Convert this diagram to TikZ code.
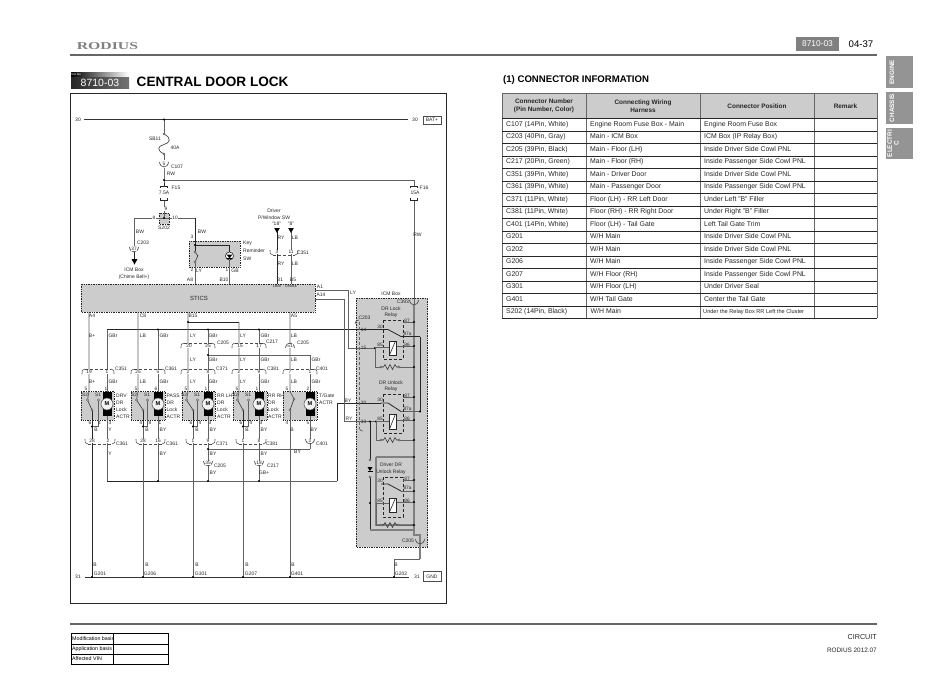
\documentclass[tikz,border=0pt]{standalone}
\usepackage{fontspec}
\setmainfont{Liberation Sans}
\newfontfamily\brandfont{Liberation Serif}
\usetikzlibrary{positioning}

\begin{document}
\begin{tikzpicture}[x=1pt,y=-1pt,
    wire/.style={color=black!62,line width=0.75pt},
    wiredk/.style={color=black!85,line width=0.8pt},
    wirefat/.style={color=black!50,line width=1.2pt},
    lbl/.style={inner sep=0pt,font=\fontsize{5}{5.5}\selectfont,color=black!85},
    pinlbl/.style={lbl,fill=white,inner sep=0.4pt,font=\fontsize{4.8}{5}\selectfont},
    pingray/.style={lbl,font=\fontsize{4.8}{5}\selectfont},
    cell/.style={inner sep=0pt,anchor=west,text height=5pt,text depth=1.5pt,font=\fontsize{6.9}{7}\selectfont,color=black!85},
    head/.style={inner sep=0pt,align=center,font=\bfseries\fontsize{6.4}{8}\selectfont,color=black!85},
    conn/.style={color=black!70,line width=0.55pt},
    connline/.style={conn,densely dashed},
    dashbox/.style={fill=black!20,draw=black!85,line width=0.7pt,densely dotted},
    relaybox/.style={draw=black!85,line width=0.6pt,densely dashed},
    junc/.style={circle,fill=black,inner sep=0pt,minimum size=2.4pt},
    hollow/.style={circle,draw=black!75,fill=black!5,line width=0.4pt,inner sep=0pt,minimum size=2.2pt},
    tabbox/.style={fill=black!42,draw=none},
    tabtext/.style={inner sep=0pt,rotate=90,align=center,color=white,font=\bfseries\fontsize{6.4}{6.6}\selectfont}]
    \useasboundingbox (0,0) rectangle (950,672);

    % page head
    \node[inner sep=0pt,xscale=1.5,color=black!50,font=\brandfont\bfseries\fontsize{10.5}{11}\selectfont] (brand) at (107.5,46.5) {RODIUS};
    \draw[color=black!60,line width=2.4pt] (70,55) -- (877,55);
    \draw[color=black!60,line width=2.4pt] (70,624) -- (877,624);
    \fill[black!50] (796,37) rectangle (839,51);
    \node[inner sep=0pt,color=white,font=\fontsize{8.4}{9}\selectfont] (code) at (817.5,44) {8710-03};
    \node[inner sep=0pt,color=black,font=\fontsize{9.6}{10}\selectfont] (page) at (861,44) {04-37};

    % side tabs
    \fill[tabbox] (886,56) rectangle (913,88);
    \fill[tabbox] (886,92) rectangle (913,124);
    \fill[tabbox] (886,128) rectangle (913,159);
    \node[tabtext] (tabeng) at (892,72) {ENGINE};
    \node[tabtext] (tabcha) at (892,108) {CHASSIS};
    \node[tabtext] (tabele) at (893,143.5) {ELECTRI\\C};

    % section title
    \shade[left color=black,right color=white] (71,72) rectangle (129,77);
    \shade[left color=black!85,right color=black!55] (71,77) rectangle (129,88);
    \node[inner sep=0pt,color=white,font=\fontsize{3}{3}\selectfont] (sano) at (76,74.5) {S/A No};
    \node[inner sep=0pt,color=white,font=\fontsize{10.5}{11}\selectfont] (secno) at (100,82.5) {8710-03};
    \node[inner sep=0pt,anchor=west,color=black,font=\bfseries\fontsize{13.6}{14}\selectfont] (title) at (136.5,81.5) {CENTRAL DOOR LOCK};
    \draw[color=black!85,line width=0.9pt] (70.5,93) rectangle (446,603.5);

    % gray boxes
    \path[dashbox] (81,284) rectangle (315,312);
    \path[dashbox] (356,298) rectangle (427.5,547);
    \path[dashbox] (189,241) rectangle (240,267);
    \path[dashbox] (159,213) rectangle (169,224);
    \node[inner sep=0pt,font=\fontsize{6}{6}\selectfont,color=black!85] (stics) at (199,298) {STICS};

    % wire points
    \foreach \pname/\x/\y in {bat/84/119.5,batr/408/119.5,jbat/164/119.5,sbt/164/134,sbb/164/154,
        cfuse/164/168,jrw/164/180,ftop/164/186,fbot/164/200,gtop/414/186,gbot/414/200,corner/414/180,
        jsplice/164/218,spl/134/218,spr/195/218,wicm/134/260,jkey/195/245,lampt/229.5/245,
        swa/195/252,swb/195/262,wA/195/284,wB/229.5/284,lamp/229.5/256,
        dra/277/232,drb/291/232,drc/277/284,drd/291/284,
        gl/85/577,gr/409/577,jg/394/577,up/394/559,upr/420/559,
        a1/315/290,a1b/348/290,a14/315/299,a14b/344/299,
        pin15/375/348,pin33/376/421.5,jp33/370/421.5,
        brk/188/322,brkr/239/322,bus/107/329.5,busr/381/329.5,
        b5/208/355,b5r/310/355,
        low/107/481,lowr/337/481,ret/381/403,
        bot5/310/449,jbot/208/449,
        mainT/414/305,mainB/414/535,sideT/420/336.5,sideB/420/411.5,
        cgnd/420/535,diT/370/460,diB/370/477,diE/370/530,diF/414/530,
        boxa/376/457,boxb/414/457,boxc/376/525,boxd/414/525}
        {\coordinate (\pname) at (\x,\y);}

    % supply side
    \draw[color=black!80,line width=1pt] (bat) -- (batr);
    \draw[wire] (jbat) -- (sbt);
    \draw[color=black!80,line width=0.6pt] (sbt) .. controls (172,138) and (170,143) .. (164,144.5) .. controls (158,146) and (156,150) .. (sbb);
    \draw[wire] (sbb) -- (164,160);
    \draw[wiredk] (cfuse) -- (jrw) -- (ftop);
    \draw[wire] (jrw) -- (corner) -- (gtop);
    \draw[wire] (gbot) -- (mainT);
    \draw[wire] (fbot) -- (jsplice);
    \draw[wire] (spl) -- (spr);
    \draw[wire] (spl) -- (134,246);
    \draw[wiredk] (134,252) -- (wicm);
    \draw[wiredk] (spr) -- (swa);
    \draw[wiredk] (jkey) -- (lampt) -- (lamp);
    \draw[wire] (swb) -- (wA);
    \draw[wire] (lamp) -- (wB);
    \draw[color=black!80,line width=0.6pt] (swa) -- (198,256);
    \draw[color=black!80,line width=0.6pt] (swb) -- (198,255.5);
    \foreach \p in {sbt,sbb,swa,swb}
        {\node[hollow] (h\p) at (\p) {};}
    \fill[black] (131.5,259) -- (137.5,259) -- (134.5,264.5) -- cycle;
    \draw[wiredk] (dra) -- (drc);
    \draw[wire] (drb) -- (drd);
    \foreach \x in {277,291}
        \fill[black] (\x-2.8,228) -- (\x+2.8,228) -- (\x,233) -- cycle;

    % fuses and lamp
    \foreach \x in {164,414}
        {\draw[color=black!85,line width=0.6pt] (\x-3.5,188) -- (\x-3.5,186) -- (\x+3.5,186) -- (\x+3.5,188);
         \draw[color=black!85,line width=0.6pt] (\x-3.5,198) -- (\x-3.5,200) -- (\x+3.5,200) -- (\x+3.5,198);}
    \node[circle,fill=white,draw=black,line width=0.5pt,inner sep=0pt,minimum size=8pt] (lampc) at (lamp) {};
    \fill[black] (226.7,254.5) -- (232.3,254.5) -- (229.5,258.5) -- cycle;
    \draw[black,line width=0.6pt] (226.7,258.5) -- (232.3,258.5);

    % door actuators
    \foreach \n/\bl/\br in {1/81/114,2/131/165,3/182/215,4/233/267,5/283/317}
        {\path[dashbox] (\bl,391.5) rectangle (\br,420);}
    \draw[wiredk] (brk) -- (brkr);
    \draw[wiredk] (bus) -- (busr);
    \draw[wire] (b5) -- (b5r);
    \draw[wiredk] (low) -- (158,481);
    \draw[wire] (158,481) -- (lowr);
    \draw[wiredk] (lowr) -- (337,403) -- (ret);
    \draw[wire] (jbot) -- (bot5);
    \foreach \n/\ux/\ut/\mx/\mt/\lx in {1/89/312/107/329.5/92,2/138/312/158/329.5/143,3/188/312/208/329.5/193,4/239/322/259/329.5/243}
        {\coordinate (top\n) at (\ux,\ut);
         \coordinate (ent\n) at (\ux,391.5);
         \coordinate (sig\n) at (\mx,\mt);
         \coordinate (mot\n) at (\mx,404);
         \coordinate (sw\n) at (\ux-1.5,400);
         \coordinate (sy\n) at (\ux+9.5,400);
         \coordinate (lv\n) at (\lx,410);
         \coordinate (gnd\n) at (\lx,577);
         \coordinate (join\n) at (\lx,426.5);
         \coordinate (joir\n) at (\ux+9.5,426.5);
         \draw[wire] (top\n) -- (ent\n) -- (sw\n);
         \draw[wire] (sy\n) -- (joir\n) -- (join\n);
         \draw[wiredk] (lv\n) -- (join\n);
         \draw[wire] (join\n) -- (gnd\n);
         \draw[color=black!80,line width=0.6pt] (sw\n) -- (lv\n);
         \node[hollow] (hs\n) at (sw\n) {};
         \node[hollow] (hy\n) at (sy\n) {};
         \node[hollow] (hl\n) at (lv\n) {};
         \node[junc] (jj\n) at (join\n) {};
         \node[pingray] (s2\n) at (\ux-4,395) {S2};
         \node[pingray] (s1\n) at (\ux+9,395) {S1};
         \draw[wire] (sig\n) -- (\mx,392);
         \draw[wire] (\mx,416) -- (\mx,481);
         \fill[black] (\mx-4.5,392) rectangle (\mx+4.5,416);
         \node[circle,draw=black!70,fill=black!5,line width=0.5pt,inner sep=0pt,minimum size=12pt,font=\bfseries\fontsize{5.6}{6}\selectfont] (m\n) at (mot\n) {M};}
    \coordinate (top5) at (290,312);
    \coordinate (gnd5) at (290,577);
    \draw[wire] (top5) -- (290,391.5) -- (294,399);
    \draw[wire] (290,410) -- (gnd5);
    \draw[color=black!80,line width=0.6pt] (294,399) -- (290,410);
    \node[hollow] (hs5) at (294,399) {};
    \node[hollow] (hl5) at (290,410) {};
    \draw[wire] (b5r) -- (310,392);
    \draw[wire] (310,416) -- (bot5);
    \fill[black] (305.5,392) rectangle (314.5,416);
    \node[circle,draw=black!70,fill=black!5,line width=0.5pt,inner sep=0pt,minimum size=12pt,font=\bfseries\fontsize{5.6}{6}\selectfont] (m5) at (310,404) {M};

    % ground bus
    \draw[color=black!80,line width=0.9pt] (gl) -- (gr);
    \draw[wiredk] (gnd1) -- (join1);
    \draw[wire] (upr) -- (up) -- (jg);
    \foreach \j in {gnd1,gnd2,gnd3,gnd4,gnd5,jg,jbot,b5,brk,jrw,jbat,jsplice,jkey}
        {\node[junc] (d\j) at (\j) {};}
    \foreach \p/\q [count=\n] in {158/329.5,208/329.5,259/329.5,158/481,208/481,259/481}
        {\node[junc] (jb\n) at (\p,\q) {};}

    % ICM box wiring
    \draw[wire] (a1) -- (a1b) -- (348,348) -- (pin15);
    \draw[wire] (a14) -- (a14b) -- (344,421.5) -- (jp33) -- (pin33);
    \draw[wirefat] (mainT) -- (mainB) -- (cgnd) -- (upr);
    \draw[wiredk] (sideT) -- (sideB);
    \draw[wiredk] (401,336.5) -- (sideT);
    \draw[wire] (401,411.5) -- (sideB);
    \draw[wiredk] (jp33) -- (diT);
    \draw[wiredk] (diB) -- (diE);
    \draw[wirefat] (diE) -- (diF);
    \draw[wirefat] (boxa) -- (boxb);
    \draw[wirefat] (boxa) -- (boxc) -- (boxd);
    \node[hollow] (hdt) at (diT) {};
    \node[hollow] (hdb) at (diB) {};
    \fill[black] (367.5,467) -- (372.5,467) -- (370,471) -- cycle;
    \draw[black,line width=0.6pt] (367.5,471) -- (372.5,471);
    \node[junc] (djd) at (370,503) {};
    \foreach \j in {jp33,pin33,pin15}
        {\node[junc] (d\j) at (\j) {};}
    \draw[color=black!60,line width=0.5pt,densely dashed] (359,322) -- (359,428);
    \draw[conn] (355,324) .. controls (355.5,321) .. (359,320);
    \draw[conn] (359,428) .. controls (361,431) .. (363,431);

    % relays
    \foreach \n/\bt/\bb/\pa/\pb/\pc/\pd/\pe/\ct/\cb/\rr/\ll in {1/320/359/322/336.5/346/329.5/347/341/355/367/375,2/394/433/397/411.5/420/403/421.5/414/429/440/376,3/477/517/480/491/502/484/503/498/512/525/376}
        {\path[relaybox] (383,\bt) rectangle (403,\bb);
         \draw[wire] (403,\pa) -- (414,\pa);
         \draw[wire] (396,\pc) -- (414,\pc);
         \draw[wiredk] (381,\pd) -- (388,\pd) -- (401,\pb);
         \draw[wire] (\ll,\pe) -- (389,\pe);
         \draw[wire] (\ll,\pe) -- (\ll,\rr) -- (381,\rr);
         \draw[wire] (399,\rr) -- (414,\rr);
         \draw[color=black!80,line width=0.55pt] (381,\rr) -- (383.5,\rr) -- (385,\rr-2.5) -- (387.5,\rr+2.5) -- (390,\rr-2.5) -- (392.5,\rr+2.5) -- (395,\rr-2.5) -- (396.5,\rr) -- (399,\rr);
         \node[hollow] (rh\n) at (381,\rr) {};
         \node[hollow] (ri\n) at (399,\rr) {};
         \node[junc] (jra\n) at (414,\pa) {};
         \node[junc] (jrc\n) at (414,\pc) {};
         \node[junc] (jrr\n) at (414,\rr) {};
         \draw[fill=white,draw=black!85,line width=0.6pt] (389,\ct) rectangle (396,\cb);
         \draw[black!85,line width=0.6pt] (389.5,\cb) -- (395.5,\ct);
         \node[pingray] (pa\n) at (407,\pa-1) {87};
         \node[pingray] (pb\n) at (407.5,\pb-3) {87a};
         \node[pingray] (pc\n) at (407,\pc-1) {86};
         \node[pingray] (pd\n) at (380,\pd-3) {30};
         \node[pingray] (pe\n) at (380,\pe-2.5) {85};}
    \draw[wire] (401,491) -- (414,491);
    \node[junc] (jmk) at (414,491) {};
    \node[junc] (jmt) at (414,457) {};
    \node[junc] (jmj) at (420,411.5) {};

    % connector marks, pair lines
    \foreach \a/\b/\y in {188/208/346,239/259/346,89/107/372,138/158/372,188/208/372,239/259/372,290/310/372}
        {\draw[conn] (\a-7,\y+2) .. controls (\a-7,\y-2) .. (\a-4,\y-3);
         \draw[connline] (\a-4,\y-3) -- (\b+4,\y-3);
         \draw[conn] (\b+4,\y-3) .. controls (\b+7,\y-2) .. (\b+7,\y+2);}
    \foreach \a/\b/\y in {277/291/252,92/108/441,143/158/441,193/208/441,243/259/441}
        {\draw[conn] (\a-7,\y-2) .. controls (\a-7,\y+2) .. (\a-4,\y+3);
         \draw[connline] (\a-4,\y+3) -- (\b+4,\y+3);
         \draw[conn] (\b+4,\y+3) .. controls (\b+7,\y+2) .. (\b+7,\y-2);}
    % single pin marks
    \foreach \x/\y in {164/164,134/249,310/441,208/463,259/463,420/541,414/302}
        {\draw[conn,line width=0.7pt] (\x-4.5,\y-2) .. controls (\x-4,\y+4.5) and (\x+4,\y+4.5) .. (\x+4.5,\y-2);}
    \draw[conn,line width=0.7pt] (285.5,348) .. controls (286,341.5) and (294,341.5) .. (294.5,348);

    % pin numbers
    \foreach \x/\y/\t [count=\n] in {166/209/9,154/217.5/8,175/217.5/10,164/164/5,134/249/37,
        192/237/3,192/270/2,227/270/1,277/252/3,291/252/11,
        189/346/20,208/346/25,240/346/15,259/346/17,290/346/51,
        89/372/19,107/372/1,138/372/25,158/372/5,188/372/2,208/372/8,239/372/2,259/372/9,290/372/7,310/372/1,
        92/441/28,108/441/2,143/441/28,158/441/16,193/441/1,208/441/9,243/441/1,259/441/8,310/441/2,
        208/463/35,259/463/18}
        {\node[pinlbl] (pn\n) at (\x,\y) {\t};}
    \foreach \x/\y/\t [count=\n] in {86/388.5/5,106/388.5/1,136/388.5/5,156/388.5/6,186/388.5/5,206/388.5/1,237/388.5/5,257/388.5/1,287/388.5/5,308/388.5/2,
        90/423/6,99.5/423/4,110/423/3,141/423/4,150/423/8,160/423/1,191/423/6,200/423/4,210/423/3,241/423/6,251/423/4,261/423/3,287/423/4,308/423/5,
        363.5/330/14,363.5/348/15,363.5/403/30,363.5/422/33}
        {\node[pingray] (pp\n) at (\x,\y) {\t};}

    % wire colours and part names
    \foreach \x/\y/\t [count=\n] in {78/119.5/30,415/119.5/30,78/577/31,417/577/31,
        155/139/SB11,175/148/40A,177/167/C107,171/174/RW,176/188/F15,164/193/7.5A,424/187.5/F16,415/193/15A,
        164/228/S202,140/232/BW,202/232/BW,143/243/C203,417.5/235/RW,
        199/271/LY,235/271/GB,190/280/A8,224/280/B10,
        281/238/RY,295/238/LB,281/264/RY,295/264/LB,303/253/C351,280/280/B1,293/280/B5,
        320/287/A1,321/295/A14,353/293/LY,
        92/316/A4,143/316/C8,193/316/B15,294/316/A5,
        92/336/B+,113/336/GBr,143/336/LB,164/336/GBr,193/336/LY,213/336/GBr,243/336/LY,265/336/GBr,294/336/LB,
        223/343/C205,272/342/C217,303/343/C205,
        193/360/LY,213/360/GBr,243/360/LY,265/360/GBr,294/360/LB,316/360/GBr,
        121/369/C351,171/369/C361,222/369/C371,273/369/C381,322/369/C401,
        92/382/B+,113/382/GBr,143/382/LB,164/382/GBr,193/382/LY,213/382/GBr,243/382/LY,265/382/GBr,294/382/LB,316/382/GBr,
        96/430/B,110/430/Y,147/430/B,163/430/BY,197/430/B,213/430/BY,247/430/B,264/430/BY,292/430/B,314/430/BY,
        122/444/C361,172/444/C361,222/444/C371,272/444/C381,322/444/C401,
        110/454/Y,163/454/BY,213/454/BY,264/454/BY,297.5/452/BY,
        220/466/C205,273/466/C217,213/473/BY,264/473/GB+,
        348/400.5/BY,349/419/RY,391/294/ICM Box,403/302/C393,364.5/318/C203,408/541/C205,
        95/565/B,147/565/B,197/565/B,247/565/B,293/565/B,396/565/B,
        100/573.5/G201,150/573.5/G206,201/573.5/G301,251/573.5/G207,297/573.5/G401,401/573.5/G202}
        {\node[lbl] (wl\n) at (\x,\y) {\t};}
    \foreach \x/\y/\t [count=\n] in {277/286.5/Lock,291/286.5/Unlock}
        {\node[lbl,font=\fontsize{3.8}{4}\selectfont] (st\n) at (\x,\y) {\t};}

    % two and more line names
    \foreach \x/\y/\t [count=\n] in {134/270/ICM Box,134/277.5/(Chime Bell+),274/211/Driver,274/218/{P/Window SW},276.5/223.5/"18",291/223.5/"8",
        391/309/DR Lock,391/315.5/Relay,391/383/DR Unlock,391/389.5/Relay,391/464.5/Driver DR,391/472/Unlock Relay}
        {\node[lbl] (nm\n) at (\x,\y) {\t};}
    \foreach \x/\y/\t [count=\n] in {243/243/Key,243/251/Reminder,243/259/SW,
        116/396/DRV,116/403/DR,116/410/Lock,116/417/ACTR,
        166.5/396/PASS,166.5/403/DR,166.5/410/Lock,166.5/417/ACTR,
        217/396/RR LH,217/403/DR,217/410/Lock,217/417/ACTR,
        268/396/RR RH,268/403/DR,268/410/Lock,268/417/ACTR,
        319/396/{T/Gate},319/403/ACTR}
        {\node[lbl,anchor=west] (ac\n) at (\x,\y) {\t};}

    % power and ground tags
    \draw[color=black!70,line width=0.6pt] (423,116) rectangle (441,124);
    \draw[color=black!70,line width=0.6pt] (423,571.5) rectangle (441,581);
    \node[lbl] (tagbat) at (432,120) {BAT+};
    \node[lbl] (taggnd) at (432,576.5) {GND};

    % connector table
    \node[inner sep=0pt,anchor=west,color=black,font=\bfseries\fontsize{9.6}{10}\selectfont] (tabtitle) at (503,80) {(1) CONNECTOR INFORMATION};
    \fill[black!20] (502,93) rectangle (877,118.3);
    \foreach \x in {502,586,700.5,814,877}
        \draw[color=black!60,line width=0.7pt] (\x,93) -- (\x,318.3);
    \draw[color=black!60,line width=0.8pt] (502,93) -- (877,93);
    \draw[color=black!85,line width=0.7pt] (502,118.3) -- (877,118.3);
    \foreach \i in {1,...,16}
        {\pgfmathsetmacro{\ly}{118.3+\i*12.5}
         \draw[color=black!85,line width=0.55pt] (502,\ly) -- (877,\ly);}
    \node[head] (hconn) at (544,106) {Connector Number\\(Pin Number, Color)};
    \node[head] (hharn) at (643,106) {Connecting Wiring\\Harness};
    \node[head] (hpos) at (757,106.5) {Connector Position};
    \node[head] (hrem) at (845.5,106.5) {Remark};
    \foreach \a/\b/\c [count=\n] in {
        {C107 (14Pin, White)}/{Engine Room Fuse Box - Main}/{Engine Room Fuse Box},
        {C203 (40Pin, Gray)}/{Main - ICM Box}/{ICM Box (IP Relay Box)},
        {C205 (39Pin, Black)}/{Main - Floor (LH)}/{Inside Driver Side Cowl PNL},
        {C217 (20Pin, Green)}/{Main - Floor (RH)}/{Inside Passenger Side Cowl PNL},
        {C351 (39Pin, White)}/{Main - Driver Door}/{Inside Driver Side Cowl PNL},
        {C361 (39Pin, White)}/{Main - Passenger Door}/{Inside Passenger Side Cowl PNL},
        {C371 (11Pin, White)}/{Floor (LH) - RR Left Door}/{Under Left "B" Filler},
        {C381 (11Pin, White)}/{Floor (RH) - RR Right Door}/{Under Right "B" Filler},
        {C401 (14Pin, White)}/{Floor (LH) - Tail Gate}/{Left Tail Gate Trim},
        {G201}/{W/H Main}/{Inside Driver Side Cowl PNL},
        {G202}/{W/H Main}/{Inside Driver Side Cowl PNL},
        {G206}/{W/H Main}/{Inside Passenger Side Cowl PNL},
        {G207}/{W/H Floor (RH)}/{Inside Passenger Side Cowl PNL},
        {G301}/{W/H Floor (LH)}/{Under Driver Seal},
        {G401}/{W/H Tail Gate}/{Center the Tail Gate}}
        {\pgfmathsetmacro{\ry}{118.3+(\n-0.5)*12.5}
         \node[cell] (ca\n) at (506,\ry) {\a};
         \node[cell] (cb\n) at (590,\ry) {\b};
         \node[cell] (cc\n) at (704,\ry) {\c};}
    \node[cell] (ca16) at (506,312) {S202 (14Pin, Black)};
    \node[cell] (cb16) at (590.5,312) {W/H Main};
    \node[cell,font=\fontsize{5.6}{6}\selectfont] (cc16) at (703,312) {Under the Relay Box RR Left the Cluster};

    % modification table
    \draw[black,line width=0.9pt] (71,633) rectangle (168.5,664);
    \draw[black,line width=0.9pt] (71,644) -- (168.5,644);
    \draw[black,line width=0.9pt] (71,654) -- (168.5,654);
    \draw[black,line width=0.9pt] (113.7,633) -- (113.7,664);
    \foreach \y/\t [count=\n] in {638.5/Modification basis,649/Application basis,659/Affected VIN}
        {\node[lbl,anchor=west,font=\fontsize{5.3}{6}\selectfont,color=black] (mod\n) at (72,\y) {\t};}
    \node[inner sep=0pt,anchor=east,color=black!85,font=\fontsize{7.2}{8}\selectfont] (foota) at (877,637) {CIRCUIT};
    \node[inner sep=0pt,anchor=east,color=black!85,font=\fontsize{6.4}{7}\selectfont] (footb) at (877,650) {RODIUS 2012.07};
\end{tikzpicture}
\end{document}
